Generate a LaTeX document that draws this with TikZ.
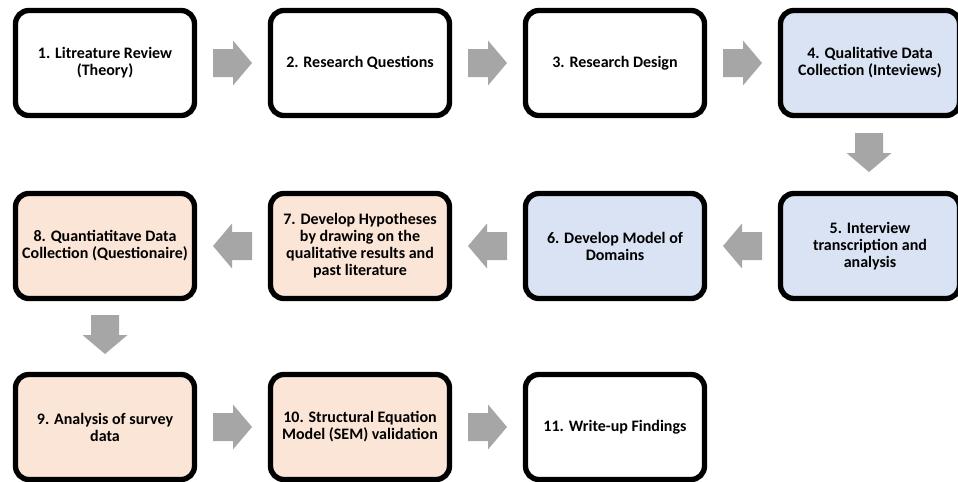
\documentclass[tikz,border=0pt]{standalone}
\usepackage{fontspec}
\setmainfont{Carlito}
\usetikzlibrary{calc}
\definecolor{arrowgray}{HTML}{A6A6A6}
\definecolor{qualblue}{HTML}{DAE3F3}
\definecolor{quantpeach}{HTML}{FBE5D6}
\tikzset{
  stepbox/.style={draw=black, line width=4pt, rounded corners=10pt,
    minimum width=179*0.75pt, minimum height=105*0.75pt,
    align=center, font=\bfseries\fontsize{12pt}{12.8pt}\selectfont, fill=white},
  qual/.style={stepbox, fill=qualblue},
  quant/.style={stepbox, fill=quantpeach},
  blockarrow/.pic={\fill[arrowgray] (-19.5,-14) -- (0.5,-14) -- (0.5,-22.5)
      -- (19.5,0) -- (0.5,22.5) -- (0.5,14) -- (-19.5,14) -- cycle;}
}
\begin{document}
\begin{tikzpicture}[x=0.75pt, y=-0.75pt]
\useasboundingbox (0,0) rectangle (958,482);
\clip (0,0) rectangle (958,482);
% row 1
\node[stepbox] (s1) at (105,63)  {1. Litreature Review\\(Theory)};
\node[stepbox] (s2) at (360,63)  {2. Research Questions};
\node[stepbox] (s3) at (615,63)  {3. Research Design};
\node[qual]    (s4) at (870,63)  {4. Qualitative Data\\Collection (Inteviews)};
% row 2
\node[qual]    (s5) at (870,246) {5. Interview\\transcription and\\analysis};
\node[qual]    (s6) at (615,246) {6. Develop Model of\\Domains};
\node[quant]   (s7) at (360,246) {7. Develop Hypotheses\\by drawing on the\\qualitative results and\\past literature};
\node[quant]   (s8) at (105,246) {8. Quantiatitave Data\\Collection (Questionaire)};
% row 3
\node[quant]   (s9) at (105,427) {9. Analysis of survey\\data};
\node[quant]   (s10) at (360,427) {10. Structural Equation\\Model (SEM) validation};
\node[stepbox] (s11) at (615,427) {11. Write-up Findings};
% block arrows between the steps
\pic at ($(s1.east)!0.5!(s2.west)$) {blockarrow};
\pic at ($(s2.east)!0.5!(s3.west)$) {blockarrow};
\pic at ($(s3.east)!0.5!(s4.west)$) {blockarrow};
\pic[rotate=-90] at ($(s4.south)!0.5!(s5.north)+(-1,-2)$) {blockarrow};
\pic[rotate=180] at ($(s5.west)!0.5!(s6.east)$) {blockarrow};
\pic[rotate=180] at ($(s6.west)!0.5!(s7.east)$) {blockarrow};
\pic[rotate=180] at ($(s7.west)!0.5!(s8.east)$) {blockarrow};
\pic[rotate=-90] at ($(s8.south)!0.5!(s9.north)+(0,-2)$) {blockarrow};
\pic at ($(s9.east)!0.5!(s10.west)$) {blockarrow};
\pic at ($(s10.east)!0.5!(s11.west)$) {blockarrow};
\end{tikzpicture}
\end{document}
